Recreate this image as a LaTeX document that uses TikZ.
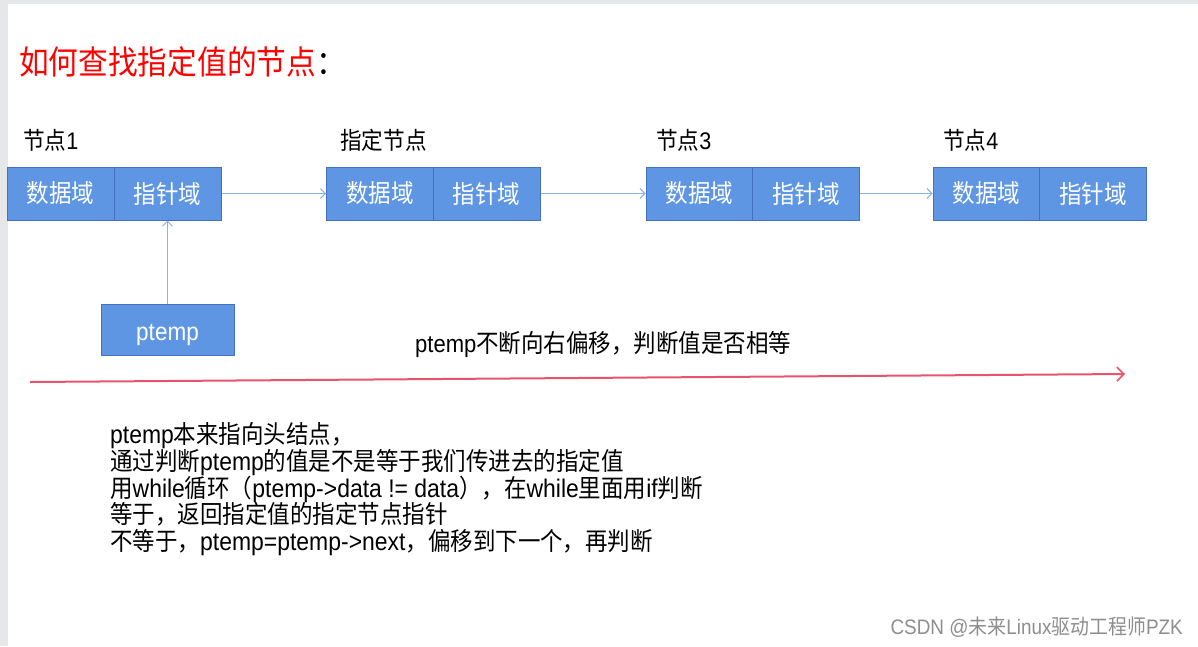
\documentclass[tikz,border=0pt]{standalone}
\usepackage{fontspec}
\setmainfont{Liberation Sans}[FakeStretch=0.9]
\newfontfamily\cjk{Noto Sans CJK SC}[FakeStretch=0.9]
\newfontfamily\cjkb{Noto Sans CJK SC}[FakeStretch=0.9,Scale=0.98]
\usetikzlibrary{arrows.meta}
\definecolor{boxfill}{HTML}{5F96E4}
\definecolor{boxline}{HTML}{4470C0}
\definecolor{linkblue}{HTML}{8AB0E6}
\definecolor{redline}{HTML}{E8546C}
\definecolor{framegray}{HTML}{E6E7E9}
\definecolor{wmgray}{HTML}{8E8E8E}
\begin{document}
\begin{tikzpicture}[x=1pt,y=-1pt,
  cell/.style={draw=boxline, line width=1pt, fill=boxfill, text=white,
    minimum width=107pt, minimum height=53pt, inner sep=0pt,
    font=\cjk\fontsize{25}{28}\selectfont},
  lbl/.style={anchor=base west, inner sep=0pt, font=\cjk\fontsize{24}{28}\selectfont},
  bodyline/.style={anchor=base west, inner sep=0pt, font=\fontsize{25.5}{27}\selectfont},
  link/.style={draw=linkblue, line width=0.9pt, -{Straight Barb[length=5pt,width=10pt]}},
  redarrow/.style={draw=redline, line width=2pt, -{Straight Barb[length=7pt,width=14pt,line width=1.6pt]}}
]
\useasboundingbox (0,0) rectangle (1198,646);
\fill[white] (0,0) rectangle (1198,646);
\fill[framegray] (0,0) rectangle (1198,4);
\fill[framegray] (0,0) rectangle (8,646);

% title
\node[anchor=base west, inner sep=0pt, font=\cjk\fontsize{33}{36}\selectfont] (title) at (19,74.5)
  {\textcolor{red}{如何查找指定值的节点}：};

% labels
\node[lbl] (l1) at (23,149) {节点{\fontspec{Liberation Sans}[FakeStretch=0.9]1}};
\node[lbl] (l2) at (340,149) {指定节点};
\node[lbl] (l3) at (656,149) {节点{\fontspec{Liberation Sans}[FakeStretch=0.9]3}};
\node[lbl] (l4) at (943,149) {节点{\fontspec{Liberation Sans}[FakeStretch=0.9]4}};

% list cells
\node[cell] (d1) at (60.5,193.5) {数据域};
\node[cell] (p1) at (167.5,193.5) {指针域};
\node[cell] (d2) at (380,193.5) {数据域};
\node[cell] (p2) at (486.5,193.5) {指针域};
\node[cell] (d3) at (699.5,193.5) {数据域};
\node[cell] (p3) at (806,193.5) {指针域};
\node[cell] (d4) at (986.5,193.5) {数据域};
\node[cell] (p4) at (1093,193.5) {指针域};

\draw[link] (p1.east) -- (d2.west);
\draw[link] (p2.east) -- (d3.west);
\draw[link] (p3.east) -- (d4.west);

% ptemp
\node[cell, minimum width=133pt, minimum height=51pt, font=\fontsize{25}{28}\selectfont,
  text height=22pt, text depth=1pt] (pt) at (167.5,329.5) {ptemp};
\draw[link] (pt.north) -- (p1.south);

% moving label and red arrow
\node[anchor=base west, inner sep=0pt, font=\fontsize{24.5}{28}\selectfont] (mv) at (415,352.5)
  {ptemp{\cjk\fontsize{25}{28}\selectfont 不断向右偏移，判断值是否相等}};
\coordinate (r1) at (30,382);
\coordinate (r2) at (1125,374);
\draw[redarrow] (r1) -- (r2);

% body text
\node[bodyline] (b1) at (110,443) {ptemp{\cjkb 本来指向头结点，}};
\node[bodyline] (b2) at (110,470) {{\cjkb 通过判断}ptemp{\cjkb 的值是不是等于我们传进去的指定值}};
\node[bodyline] (b3) at (110,497) {{\cjkb 用}while{\cjkb 循环（}ptemp->data != data{\cjkb ），在}while{\cjkb 里面用}if{\cjkb 判断}};
\node[bodyline] (b4) at (110,523) {{\cjkb 等于，返回指定值的指定节点指针}};
\node[bodyline] (b5) at (110,550) {{\cjkb 不等于，}ptemp=ptemp->next{\cjkb ，偏移到下一个，再判断}};

% watermark
\node[anchor=base east, inner sep=0pt, text=wmgray, font=\fontsize{21}{23}\selectfont] (wm) at (1183,634)
  {CSDN @{\cjk 未来}Linux{\cjk 驱动工程师}PZK};
\end{tikzpicture}
\end{document}
